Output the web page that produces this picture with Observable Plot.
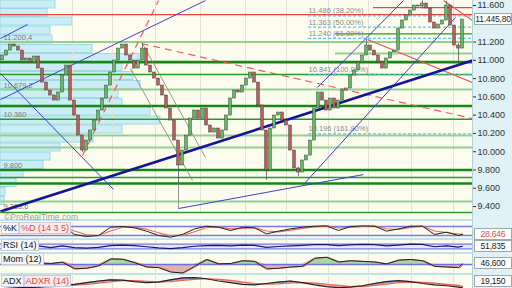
<!DOCTYPE html>
<html><head><meta charset="utf-8">
<script src="https://cdn.jsdelivr.net/npm/d3@7"></script>
<script src="https://cdn.jsdelivr.net/npm/@observablehq/plot@0.6"></script>
<style>
body{margin:0;background:#fff;}
#c{position:relative;width:512px;height:288px;overflow:hidden;background:#fcfcee;font-family:"Liberation Sans",Arial,sans-serif;}
#c svg{position:absolute;left:0;}
.rt{position:absolute;left:472px;top:0;width:40px;height:288px;background:#e0f2f6;border-left:1px solid #b5cfd6;box-sizing:border-box;}
.sep{position:absolute;left:0;width:472px;height:2px;background:#bfe2ec;}
.vbox{position:absolute;left:474px;width:38px;height:12px;line-height:11px;background:#fff;border:1px solid #9aa;font-size:8.5px;letter-spacing:-0.2px;text-align:center;box-sizing:border-box;white-space:nowrap;}
.lbl{position:absolute;left:1px;font-size:9px;line-height:10px;white-space:nowrap;}
.lbl span{background:#f8f8f8;border:1px solid #ccd;padding:0 1px;}
.wm{position:absolute;left:4px;top:212px;font-size:8.5px;color:#9a9a9a;}
</style></head><body><div id="c"><div class="rt"></div></div>
<script>
// ---------- DATA ----------
const firstOpen = 11000;
const closes = [11053,11107,11173,11151,11107,10998,11020,10976,11042,10910,
10757,10670,10615,10560,10648,10834,10943,10560,10396,10177,
10013,10122,10232,10341,10451,10582,10724,10867,10998,11129,
11173,11053,10998,10910,10998,11129,10943,10867,10801,10724,
10615,10473,10341,10122,9849,10013,10177,10363,10451,10363,
10473,10287,10210,10254,10144,10232,10396,10582,10670,10648,
10724,10801,10867,10757,10506,10232,9794,10254,10396,10429,
10341,10287,10013,9816,9772,9904,9958,10122,10473,10648,
10560,10451,10582,10473,10560,10670,10692,10834,10889,10976,
11053,11162,11107,11053,10976,10910,11020,11086,11107,11348,
11436,11491,11545,11600,11589,11622,11567,11414,11348,11392,
11436,11600,11381,11162,11129,11446];
const lastPrice = 11445.8;
const wickIdx  = [20, 35, 44, 66, 74, 91, 105, 111, 114];
const wickLow  = [9990, 11120, 9652, 9686, 9730, 11100, 11560, 11560, 10943];
const wickHigh = [10060, 11184, 9900, 9850, 9830, 11228, 11650, 11645, 11180];

const yTicks = [11600, 11200, 11000, 10800, 10600, 10400, 10200, 10000, 9800, 9600, 9400];
const gridIdx = [17.5, 27.5, 38.25, 49.5, 60.75, 71, 81.5, 91.5, 102.25, 112.75];

// horizontal support / resistance levels
const hPrice = [11500, 11578, 11290, 11200, 11075, 10980, 10845, 10680, 10500, 10355, 10177, 10046, 9800, 9717, 9652, 9455];
const hKind  = ["red","red","mid","light","light","thick","mid","light","thick","mid","light","light","thick","mid","thick","light"];
const hStart = [-0.5, 92.75, 83.25, -0.5, 83.25, -0.5, -0.5, -0.5, -0.5, -0.5, -0.5, -0.5, -0.5, -0.5, -0.5, -0.5];

// fibonacci levels
const fibPrice = [11486, 11363, 11240, 10841, 10196];
const fibPct = ["38,20%", "50,00%", "61,80%", "100,00%", "161,80%"];
const fibStart = 76.5;

// trend lines [x1, y1, x2, y2] in (candle index, price)
const trendX1 = [-0.5, -0.5, -0.5, -0.5, 44, 75.25, 78.75, 91.25, 110.25, 34.75, 20, 35, 32, 44];
const trendY1 = [11239, 10571, 10856, 9345, 9378, 9641, 10703, 11228, 11655, 11184, 9958, 11184, 10910, 9652];
const trendX2 = [6.25, 50.75, 27.75, 117.5, 90.25, 113.25, 100.25, 117.5, 117.5, 117.5, 39, 50.75, 47.5, 44];
const trendY2 = [11392, 11655, 9586, 10998, 9750, 11469, 11655, 10757, 11436, 10363, 11655, 9936, 9685, 9378];
const trendKind = ["blue","blue","blue","navy","blue","blue","blue","red","red","reddash","reddash","gray","gray","gray"];

// volume-by-price profile
const volPrice = [11611, 11518, 11425, 11326, 11228, 11124, 11025, 10927, 10828, 10730, 10631, 10533, 10440, 10341, 10243, 10144, 10046, 9947, 9854, 9756, 9657, 9559, 9460];
const volSize  = [55, 47, 72, 50, 52, 92, 139, 122, 133, 140, 118, 122, 150, 160, 122, 93, 60, 50, 43, 23, 16, 5, 4];
const volLabelPrice = [11200.4, 10679.2, 10360, 9800, 9353.6];

// indicators (sampled every 3 candles + last)
const stochK = [70,70,70,75,70,87,27,13,20,75,80,71,49,20,9,27,64,82,75,53,75,71,31,49,64,75,82,84,53,80,84,82,49,64,82,82,27,42,20,28.646];
const stochD = [68,70,70,72,72,78,50,25,20,50,75,76,62,38,18,20,45,72,78,64,67,72,50,44,56,68,78,82,70,74,80,83,65,60,74,82,50,40,30,27];
const rsi = [45,42,50,55,40,55,40,36,42,58,62,58,48,38,33,40,52,58,60,55,62,60,42,50,55,60,65,66,58,64,67,66,55,62,70,68,48,55,45,51.835];
const mom = [100,150,50,120,80,190,-350,-300,-100,450,420,150,-200,-250,-600,-680,-150,400,50,80,300,250,-350,-300,-200,-150,500,580,200,300,250,200,50,350,400,300,-150,-200,-250,46.6];
const adx = [25,22,20,22,26,30,32,38,44,48,47,42,38,40,48,55,56,52,44,38,32,30,35,40,44,38,30,24,20,22,27,35,42,45,42,35,30,27,22,19.15];
const adxr = [28,26,24,22,23,26,29,32,36,41,45,45,43,41,42,46,50,52,50,46,40,35,33,34,37,38,36,32,28,24,24,28,33,38,40,39,36,32,28,25];

// ---------- BUILD ----------
const loc = d3.formatLocale({decimal: ",", thousands: ".", grouping: [3], currency: ["", ""]});
const f0 = loc.format(",.0f"), f1 = loc.format(",.1f"), f2 = loc.format(",.2f"), f3 = loc.format(",.3f");
const C = document.getElementById("c");
const FONT = "Liberation Sans, Arial, sans-serif";
const xOpt = {domain: [-0.5, 117.5], axis: null};
const yDom = [9334.7, 11655];

const candles = closes.map((c, i) => ({i, o: i ? closes[i - 1] : firstOpen, c}));
const wicks = wickIdx.map((i, k) => ({i, lo: wickLow[k], hi: wickHigh[k]}));
const hLines = hPrice.map((p, k) => ({p, kind: hKind[k], x1: hStart[k]}));
const fibs = fibPrice.map((p, k) => ({p, pct: fibPct[k]}));
const trends = trendX1.map((x1, k) => ({x1, y1: trendY1[k], x2: trendX2[k], y2: trendY2[k], kind: trendKind[k]}));
const vols = volPrice.map((p, k) => ({p, v: volSize[k]}));
const indIdx = d3.range(0, 115, 3).concat([115]);
const ind = indIdx.map((i, k) => ({i, k: stochK[k], d: stochD[k], rsi: rsi[k], mom: mom[k], adx: adx[k], adxr: adxr[k]}));

const hStyle = {
  red:   {stroke: "#e84444", strokeWidth: 1.2},
  mid:   {stroke: "#259a25", strokeWidth: 1.4},
  light: {stroke: "#93cf8f", strokeWidth: 2},
  thick: {stroke: "#178717", strokeWidth: 2.6}
};
const tStyle = {
  blue:    {stroke: "#3f3fc8", strokeWidth: 1},
  navy:    {stroke: "#15159a", strokeWidth: 2.6},
  red:     {stroke: "#ef5050", strokeWidth: 1.1},
  reddash: {stroke: "#f05a5a", strokeWidth: 1.2, strokeDasharray: "7,5"},
  gray:    {stroke: "#8a8a80", strokeWidth: 0.9}
};

function place(svg, top) { svg.style.top = top + "px"; C.appendChild(svg); return svg; }

// volume profile layer
place(Plot.plot({
  width: 512, height: 213, marginLeft: 0, marginRight: 40, marginTop: 0, marginBottom: 1,
  x: {domain: [0, 472], axis: null}, y: {domain: yDom, axis: null},
  style: {background: "transparent"},
  marks: [
    Plot.rectX(vols, {x: "v", y1: d => d.p - 44, y2: d => d.p + 44, fill: "#cbeef6", stroke: "#93d0dd", strokeWidth: 0.8})
  ]
}), 0);

// main price panel
const mainMarks = [Plot.ruleX(gridIdx, {stroke: "#e2e2d8", strokeWidth: 1})];
for (const kind of ["light", "mid", "thick", "red"]) {
  mainMarks.push(Plot.ruleY(hLines.filter(d => d.kind === kind), {y: "p", x1: "x1", x2: () => 117.5, ...hStyle[kind]}));
}
mainMarks.push(Plot.ruleY(fibs, {y: "p", x1: () => fibStart, x2: () => 117.5, stroke: "#5cc6e6", strokeWidth: 1.2, strokeDasharray: "3,2"}));
mainMarks.push(Plot.text(fibs, {x: () => fibStart, y: "p", text: d => f0(d.p) + " (" + d.pct + ")", dy: -5, textAnchor: "start", fontSize: 7.5, fill: "#8a8a8a"}));
mainMarks.push(Plot.text(volLabelPrice, {x: () => -0.5, y: d => d, text: d => (Number.isInteger(d) ? f0 : f1)(d), dx: 3, dy: -4, textAnchor: "start", fontSize: 7.5, fill: "#7a7a7a"}));
for (const kind of ["gray", "blue", "red", "reddash", "navy"]) {
  mainMarks.push(Plot.link(trends.filter(d => d.kind === kind), {x1: "x1", y1: "y1", x2: "x2", y2: "y2", clip: true, ...tStyle[kind]}));
}
mainMarks.push(Plot.ruleX(wicks, {x: "i", y1: "lo", y2: "hi", stroke: "#555", strokeWidth: 0.8}));
mainMarks.push(Plot.rect(candles, {x1: d => d.i - 0.33, x2: d => d.i + 0.33, y1: "o", y2: "c",
  fill: d => d.c >= d.o ? "#5cbf5c" : "#c45a55", stroke: "#3a3a3a", strokeWidth: 0.5}));
mainMarks.push(Plot.ruleY([yDom[0]], {stroke: "#2f9a2f", strokeWidth: 1.5}));
mainMarks.push(Plot.axisY(yTicks, {anchor: "right", tickFormat: f0, tickSize: 3, tickPadding: 2, fontSize: 9, color: "#333", label: null}));

const main = place(Plot.plot({
  width: 512, height: 213, marginLeft: 0, marginRight: 40, marginTop: 0, marginBottom: 1,
  x: xOpt, y: {domain: yDom, axis: null},
  style: {background: "transparent", fontFamily: FONT, overflow: "visible"},
  marks: mainMarks
}), 0);

function vbox(top, text, color) {
  const d = document.createElement("div");
  d.className = "vbox"; d.style.top = Math.min(top - 6, 275) + "px"; d.style.color = color; d.textContent = text;
  C.appendChild(d);
}
vbox(main.scale("y").apply(lastPrice), f2(lastPrice), "#222");

// separators and watermark
for (const t of [219, 238, 252, 273]) { const s = document.createElement("div"); s.className = "sep"; s.style.top = t + "px"; C.appendChild(s); }
const wm = document.createElement("div"); wm.className = "wm"; wm.textContent = "©ProRealTime.com"; C.appendChild(wm);

function panel(top, height, marginTop, yDomain, marks) {
  return place(Plot.plot({
    width: 512, height, marginLeft: 0, marginRight: 40, marginTop, marginBottom: 0,
    x: xOpt, y: {domain: yDomain, axis: null},
    style: {background: "transparent", fontFamily: FONT, overflow: "visible"},
    marks: [Plot.ruleX(gridIdx, {stroke: "#e2e2d8"}), ...marks]
  }), top);
}

// Stochastic
const pSto = panel(221, 17, 2, [0, 100], [
  Plot.ruleY([20, 80], {stroke: "#7878e6", strokeWidth: 1.5}),
  Plot.line(ind, {x: "i", y: "d", stroke: "#ee6666", strokeWidth: 1.2}),
  Plot.line(ind, {x: "i", y: "k", stroke: "#222", strokeWidth: 1})
]);
vbox(221 + pSto.scale("y").apply(stochK[stochK.length - 1]), f3(stochK[stochK.length - 1]), "#e04a4a");

// RSI
const pRsi = panel(240, 12, 0, [0, 100], [
  Plot.rectY([0], {x1: () => -0.5, x2: () => 117.5, y1: () => 30, y2: () => 70, fill: "#e6e8fb"}),
  Plot.ruleY([30, 70], {stroke: "#7878e6", strokeWidth: 1.3}),
  Plot.line(ind, {x: "i", y: "rsi", stroke: "#15157a", strokeWidth: 1.2})
]);
vbox(240 + pRsi.scale("y").apply(rsi[rsi.length - 1]), f3(rsi[rsi.length - 1]), "#222");

// Momentum
const pMom = panel(254, 19, 0, [-720, 800], [
  Plot.areaY(ind, {x: "i", y1: () => 0, y2: d => Math.max(d.mom, 0), fill: "#a9d7a0"}),
  Plot.areaY(ind, {x: "i", y1: () => 0, y2: d => Math.min(d.mom, 0), fill: "#e3b1ad"}),
  Plot.ruleY([0], {stroke: "#6a74e0", strokeWidth: 1.3}),
  Plot.line(ind, {x: "i", y: "mom", stroke: "#ee6666", strokeWidth: 1, dx: 1.5}),
  Plot.line(ind, {x: "i", y: "mom", stroke: "#222", strokeWidth: 1})
]);
vbox(254 + pMom.scale("y").apply(mom[mom.length - 1]), f3(mom[mom.length - 1]), "#222");

// ADX / ADXR
const pAdx = panel(276, 14, 0, [10, 60], [
  Plot.areaY(ind, {x: "i", y1: "adxr", y2: d => Math.max(d.adx, d.adxr), fill: "#9d9ad6"}),
  Plot.areaY(ind, {x: "i", y1: "adx", y2: d => Math.max(d.adx, d.adxr), fill: "#efb3b3"}),
  Plot.line(ind, {x: "i", y: "adxr", stroke: "#ee6060", strokeWidth: 1.2}),
  Plot.line(ind, {x: "i", y: "adx", stroke: "#222", strokeWidth: 1.2})
]);
vbox(276 + pAdx.scale("y").apply(adx[adx.length - 1]), f3(adx[adx.length - 1]), "#222");

// panel labels
function label(top, parts) {
  const d = document.createElement("div"); d.className = "lbl"; d.style.top = top + "px";
  d.innerHTML = parts.map(([t, c, bg]) => `<span style="color:${c};background:${bg}">${t}</span>`).join("");
  C.appendChild(d);
}
label(223, [["%K", "#111", "#f6f6f6"], ["%D (14 3 5)", "#e04a4a", "#fbeaea"]]);
label(240, [["RSI (14)", "#111", "#f6f6f6"]]);
label(254, [["Mom (12)", "#111", "#f6f6f6"]]);
label(276, [["ADX", "#111", "#f6f6f6"], ["ADXR (14)", "#e04a4a", "#fbeaea"]]);
</script></body></html>
